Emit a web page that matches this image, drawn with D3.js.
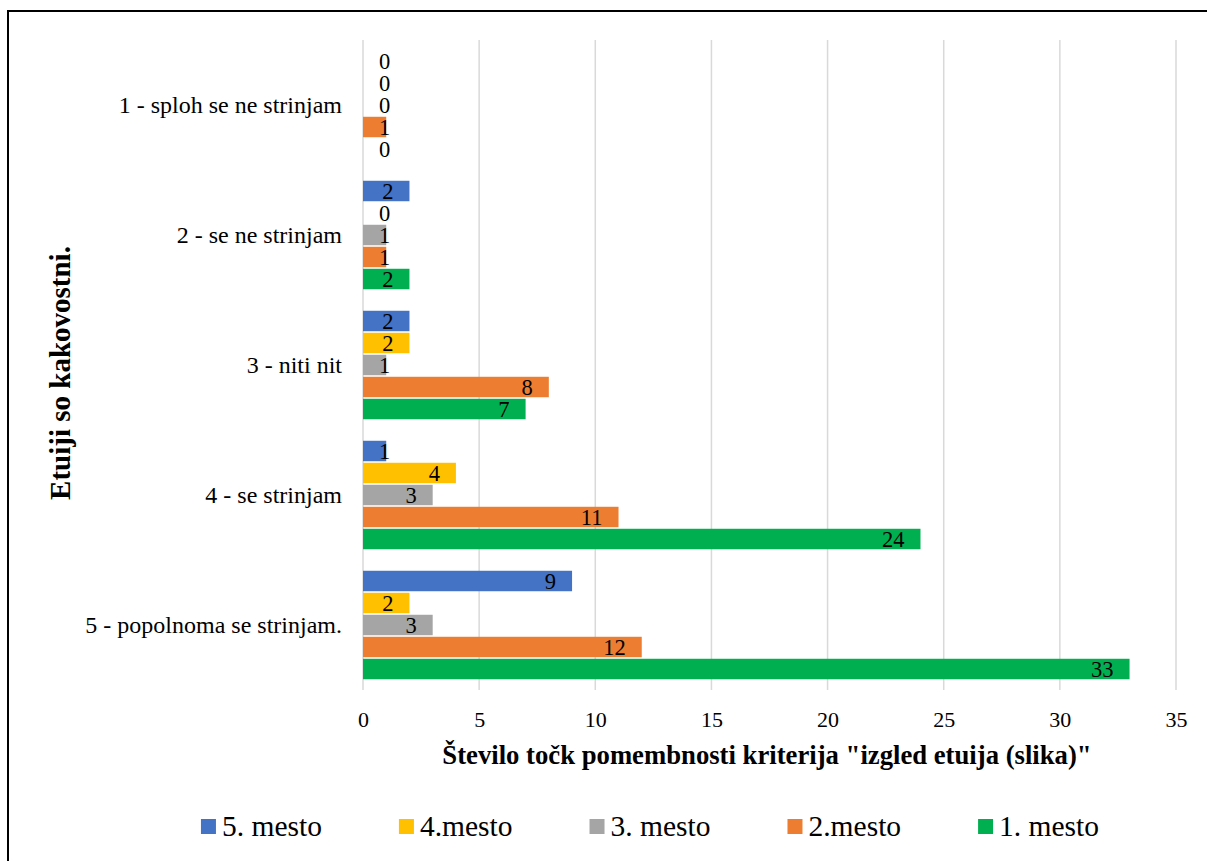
<!DOCTYPE html>
<html><head><meta charset="utf-8">
<script src="https://cdn.jsdelivr.net/npm/d3@7"></script>
<style>body{margin:0;background:#fff}svg{display:block}text{font-family:"Liberation Serif","Times New Roman","DejaVu Serif",serif;fill:#000}</style>
</head><body>
<svg id="chart" width="1207" height="861"></svg>
<script>
const categories = ["1 - sploh se ne strinjam", "2 - se ne strinjam", "3 - niti nit", "4 - se strinjam", "5 - popolnoma se strinjam."];
const seriesNames = ["5. mesto", "4.mesto", "3. mesto", "2.mesto", "1. mesto"];
const seriesColors = ["#4472C4", "#FFC000", "#A5A5A5", "#ED7D31", "#00B050"];
const mesto5 = [0, 2, 2, 1, 9];
const mesto4 = [0, 0, 2, 4, 2];
const mesto3 = [0, 1, 1, 3, 3];
const mesto2 = [1, 1, 8, 11, 12];
const mesto1 = [0, 2, 7, 24, 33];
const xTicks = [0, 5, 10, 15, 20, 25, 30, 35];
const xTitle = "Število točk pomembnosti kriterija \"izgled etuija (slika)\"";
const yTitle = "Etuiji so kakovostni.";

const seriesValues = [mesto5, mesto4, mesto3, mesto2, mesto1];
const svg = d3.select("#chart");

// outer border
svg.append("rect").attr("x", 8).attr("y", 11).attr("width", 1400).attr("height", 1000)
  .attr("fill", "none").attr("stroke", "#000").attr("stroke-width", 2);

const x = d3.scaleLinear().domain([0, 35]).range([363, 1176]);
const y = d3.scaleBand().domain(categories).range([40, 690]);
const inner = d3.scaleBand().domain(seriesNames).range([10, 120]).paddingInner(0.07).paddingOuter(0.035);

// gridlines
svg.append("g").selectAll("line").data(xTicks).join("line")
  .attr("x1", d => x(d)).attr("x2", d => x(d)).attr("y1", 40).attr("y2", 690)
  .attr("stroke", "#D9D9D9").attr("stroke-width", 1.5);

// x tick labels
const xAxis = d3.axisBottom(x).tickValues(xTicks).tickSize(0).tickPadding(0);
const gx = svg.append("g").attr("transform", "translate(0,705)").call(xAxis);
gx.attr("font-family", null);
gx.select(".domain").remove();
gx.selectAll("text").attr("font-size", 22).attr("dy", null).attr("y", 22).attr("fill", "#000");

// category labels
const yAxis = d3.axisLeft(y).tickSize(0).tickPadding(21);
const gy = svg.append("g").attr("transform", "translate(363,0)").call(yAxis);
gy.attr("font-family", null);
gy.select(".domain").remove();
gy.selectAll("text").attr("font-size", 24).attr("fill", "#000");

// bars
const rows = [];
seriesNames.forEach((s, si) => categories.forEach((c, ci) => rows.push({s, si, c, v: seriesValues[si][ci]})));
const bars = svg.append("g");
bars.selectAll("rect").data(rows).join("rect")
  .attr("x", x(0)).attr("y", d => y(d.c) + inner(d.s))
  .attr("width", d => x(d.v) - x(0)).attr("height", inner.bandwidth())
  .attr("fill", d => seriesColors[d.si]);

// data labels (inside end, clamped at axis)
const lbl = svg.append("g").selectAll("text").data(rows).join("text")
  .attr("font-size", 22.5).attr("text-anchor", "middle").attr("dominant-baseline", "central")
  .attr("y", d => y(d.c) + inner(d.s) + inner.bandwidth() / 2 + 0.5)
  .text(d => d.v);
lbl.attr("x", function(d) {
  const half = this.getComputedTextLength() / 2 + 16;
  return Math.max(x(d.v) - half, x(0) + half);
});

// axis titles
svg.append("text").attr("x", 767).attr("y", 764).attr("text-anchor", "middle")
  .attr("font-size", 26.7).attr("font-weight", "bold").text(xTitle);
svg.append("text").attr("transform", "translate(70,373) rotate(-90)").attr("text-anchor", "middle")
  .attr("font-size", 29).attr("font-weight", "bold").text(yTitle);

// legend
const lg = svg.append("g");
const items = lg.selectAll("g").data(seriesNames).join("g");
items.append("rect").attr("width", 15).attr("height", 15).attr("y", 819).attr("fill", (d, i) => seriesColors[i]);
items.append("text").attr("x", 21).attr("y", 836).attr("font-size", 29.5).text(d => d);
let cx = 0;
const widths = [];
items.each(function() { widths.push(this.querySelector("text").getComputedTextLength() + 21); });
const gap = 77;
const total = d3.sum(widths) + gap * (widths.length - 1);
cx = 650 - total / 2;
items.attr("transform", (d, i) => { const t = `translate(${cx},0)`; cx += widths[i] + gap; return t; });
</script>
</body></html>
